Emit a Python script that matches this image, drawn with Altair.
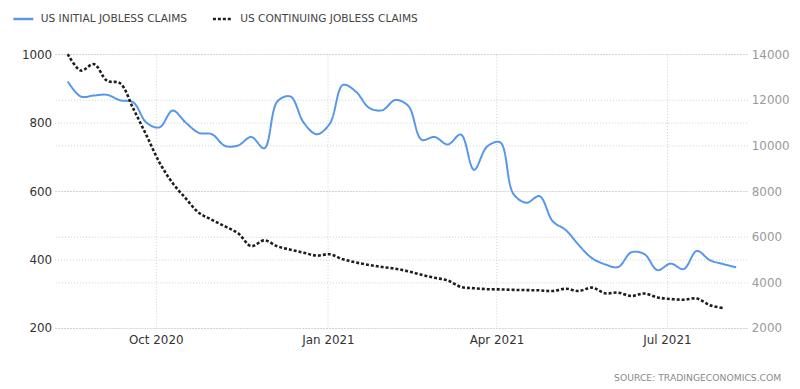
import altair as alt
import pandas as pd

# ---- data (weekly, week ending Saturday) ----
initial_start = "2020-08-15"
initial_claims = [920, 876, 879, 881, 865, 859, 800, 786, 835, 800, 770, 766, 732, 733, 758, 725,
                  862, 876, 800, 766, 797, 910, 890, 843, 836, 866, 848, 750, 758, 736, 765, 662,
                  730, 742, 592, 566, 585, 512, 486, 442, 404, 386, 378, 421, 416, 369, 388, 372,
                  425, 398, 387, 377]

continuing_start = "2020-08-15"
continuing_claims = [14000, 13280, 13560, 12830, 12720, 11610, 10450, 9250, 8350, 7680, 7050, 6740, 6450, 6150, 5590, 5840,
                     5580, 5430, 5300, 5170, 5230, 5010, 4870, 4760, 4670, 4600, 4480, 4330, 4200, 4080, 3800, 3740,
                     3700, 3690, 3670, 3660, 3650, 3620, 3720, 3620, 3770, 3520, 3550, 3400, 3510, 3340, 3270, 3240,
                     3290, 3000, 2870]

series_names = ["US INITIAL JOBLESS CLAIMS", "US CONTINUING JOBLESS CLAIMS"]
series_colors = ["#5797ea", "#1e1e1e"]
series_dashes = [[1, 0], [3, 2]]

left_ticks = [200, 400, 600, 800, 1000]
right_ticks = [2000, 4000, 6000, 8000, 10000, 12000, 14000]
x_tick_dates = [(2020, 10), (2021, 1), (2021, 4), (2021, 7)]
x_domain = ["2020-08-08", "2021-08-13"]
source_text = "SOURCE:  TRADINGECONOMICS.COM"

df_init = pd.DataFrame({
    "date": pd.date_range(initial_start, periods=len(initial_claims), freq="7D").strftime("%Y-%m-%d"),
    "value": initial_claims,
    "series": series_names[0],
})
df_cont = pd.DataFrame({
    "date": pd.date_range(continuing_start, periods=len(continuing_claims), freq="7D").strftime("%Y-%m-%d"),
    "value": continuing_claims,
    "series": series_names[1],
})

x_enc = alt.X(
    "date:T",
    scale=alt.Scale(type="utc", domain=x_domain),
    axis=alt.Axis(
        title=None,
        values=[alt.DateTime(year=y, month=m, date=1, utc=True) for y, m in x_tick_dates],
        format="%b %Y",
        labelColor="#333333",
        labelFontSize=12,
        labelPadding=7,
        grid=True,
        ticks=False,
        domain=False,
    ),
)

color_enc = alt.Color(
    "series:N",
    scale=alt.Scale(domain=series_names, range=series_colors),
    legend=alt.Legend(
        title=None,
        orient="none",
        direction="horizontal",
        legendX=-43,
        legendY=-47,
        symbolType="stroke",
        symbolSize=400,
        symbolStrokeWidth=2.5,
        labelFontSize=10.7,
        labelColor="#444444",
        labelFont="DejaVu Sans",
        labelOffset=6,
        labelLimit=400,
        columnPadding=20,
    ),
)
dash_enc = alt.StrokeDash(
    "series:N",
    scale=alt.Scale(domain=series_names, range=series_dashes),
    legend=alt.Legend(title=None),
)

init_line = alt.Chart(df_init).mark_line(strokeWidth=2, interpolate="catmull-rom").encode(
    x=x_enc,
    y=alt.Y(
        "value:Q",
        scale=alt.Scale(domain=[200, 1000], nice=False, zero=False),
        axis=alt.Axis(
            title=None, orient="left", values=left_ticks, format="d", labelColor="#333333",
            labelFontSize=12, labelPadding=3, grid=True, ticks=False, domain=False,
        ),
    ),
    color=color_enc,
    strokeDash=dash_enc,
)

cont_line = alt.Chart(df_cont).mark_line(strokeWidth=2.6, interpolate="catmull-rom").encode(
    x=x_enc,
    y=alt.Y(
        "value:Q",
        scale=alt.Scale(domain=[2000, 14000], nice=False, zero=False),
        axis=alt.Axis(
            title=None, orient="right", values=right_ticks, format="d", labelColor="#9a9a9a",
            labelFontSize=12, labelPadding=4, grid=True, ticks=False, domain=False,
        ),
    ),
    color=color_enc,
    strokeDash=dash_enc,
)

chart = (
    alt.layer(init_line, cont_line)
    .resolve_scale(y="independent")
    .properties(
        width=698,
        height=276,
        autosize=alt.AutoSizeParams(type="none"),
        padding={"left": 47, "top": 45, "right": 45, "bottom": 58},
        title=alt.TitleParams(
            text=source_text, orient="bottom", anchor="end", fontSize=9.3,
            font="DejaVu Sans", fontWeight="normal", color="#8a8a8a", dx=-8, offset=28,
        ),
    )
    .configure_view(stroke=None)
    .configure_axis(
        labelFont="DejaVu Sans",
        gridColor="#cfcfcf",
        gridDash=[1, 2],
        gridWidth=1,
    )
)

chart.save("out.html", embed_options={"renderer": "svg", "actions": False})
